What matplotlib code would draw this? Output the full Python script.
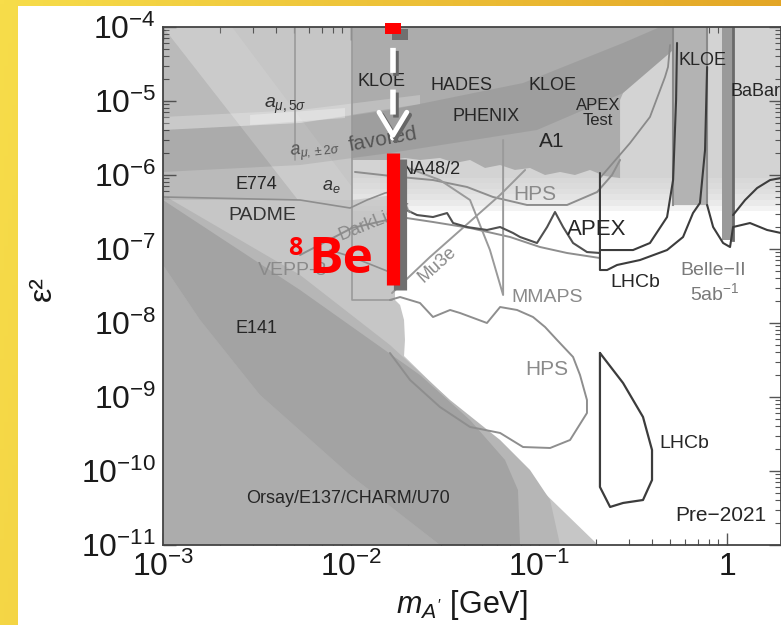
import numpy as np
import matplotlib
matplotlib.use("Agg")
import matplotlib.pyplot as plt
from matplotlib import patheffects as pe
from matplotlib.patches import Rectangle
from matplotlib.ticker import FixedLocator, FixedFormatter, LogLocator, NullFormatter

plt.rcParams['font.family'] = ['Liberation Sans', 'DejaVu Sans']
plt.rcParams['mathtext.fontset'] = 'custom'
plt.rcParams['mathtext.rm'] = 'Liberation Sans'
plt.rcParams['mathtext.it'] = 'Liberation Sans:italic'
plt.rcParams['mathtext.bf'] = 'Liberation Sans:bold'

# ---------------- datos (log10 m [GeV], log10 eps^2) ----------------
x_ticks = [1e-3, 1e-2, 1e-1, 1.0]
x_tick_labels = [r'$10^{-3}$', r'$10^{-2}$', r'$10^{-1}$', '1']
y_ticks = [1e-11, 1e-10, 1e-9, 1e-8, 1e-7, 1e-6, 1e-5, 1e-4]
y_tick_labels = [r'$10^{-11}$', r'$10^{-10}$', r'$10^{-9}$', r'$10^{-8}$',
                 r'$10^{-7}$', r'$10^{-6}$', r'$10^{-5}$', r'$10^{-4}$']
x_max = 10**0.287

# zonas excluidas
left_logm = [-3.000, -1.995, -1.995, -1.766, -1.766, -1.739, -1.718, -1.713, -1.718, -1.207, -0.686, -3.000]
left_loge = [-4.000, -4.000, -6.338, -6.270, -7.689, -7.757, -7.959, -8.230, -8.446, -9.716, -11.000, -11.000]

top_logm = [-1.995, 0.287]
top_floor = -6.041

upper_logm = [-1.995, -0.144, -0.553, -0.569, -0.569, -0.649, -0.729, -0.809, -0.888, -0.968, -1.048,
              -1.128, -1.207, -1.287, -1.367, -1.447, -1.527, -1.633, -1.713, -1.793, -1.995]
upper_loge = [-4.000, -4.000, -4.892, -4.986, -6.041, -6.014, -5.932, -6.000, -5.959, -6.000, -5.905,
              -5.932, -5.865, -5.905, -5.797, -5.838, -5.770, -5.797, -5.770, -5.797, -5.797]

amu_logm = [-3.000, -2.271, -1.793, -1.085, -0.553, -0.356, -0.144, -0.553, -1.011, -1.793, -2.271, -3.000]
amu_loge = [-5.392, -5.297, -5.122, -4.757, -4.216, -4.000, -4.000, -4.892, -5.392, -5.703, -5.865, -5.959]

amu5_logm = [-3.000, -2.271, -1.633, -1.633, -2.271, -3.000]
amu5_loge = [-5.216, -5.122, -4.919, -5.041, -5.297, -5.392]
amu5_gap_logm = [-2.537, -2.032, -2.032, -2.537]
amu5_gap_loge = [-5.189, -5.095, -5.230, -5.324]

stripe_logm = [-3.000, -2.633, -1.995, -1.995, -2.282]
stripe_loge = [-4.000, -4.000, -6.162, -6.338, -6.338]
e141_logm = [-3.000, -2.282, -3.000]
e141_loge = [-4.000, -6.338, -6.338]

bd_mid_logm = [-2.271, -1.793, -1.473, -1.207, -1.048, -0.941, -0.888, -3.000, -3.000]
bd_mid_loge = [-7.351, -8.297, -9.041, -9.581, -9.986, -10.392, -11.000, -11.000, -6.270]
bd_left_logm = [-3.000, -2.803, -2.484, -2.005, -1.527, -3.000]
bd_left_loge = [-7.216, -7.959, -8.973, -10.054, -11.000, -11.000]
bd_dark_logm = [-3.000, -2.271, -1.633, -1.367, -1.181, -1.112, -1.101, -1.527, -2.005, -2.484, -2.803, -3.000]
bd_dark_loge = [-6.338, -7.554, -8.703, -9.311, -9.851, -10.257, -11.000, -11.000, -10.054, -8.973, -7.959, -7.216]

# resonancias rho/omega y phi (KLOE)
rho_logm = [-0.287, -0.106]
rho_floor = -6.405
phi_logm = [-0.027, 0.032]
phi_floor = -6.878

# curvas
kloe_line = ([-0.676, -0.516, -0.410, -0.330, -0.314, -0.303],
             [-6.041, -5.568, -5.216, -4.676, -4.541, -4.243])
hps_up = ([-1.979, -1.739, -1.564, -1.383, -1.245, -1.064, -0.851, -0.691, -0.612, -0.569],
          [-5.959, -6.027, -6.068, -6.162, -6.297, -6.405, -6.405, -6.230, -6.000, -5.797])
padme = ([-3.000, -2.271, -2.005, -1.915, -1.819, -1.739],
         [-6.297, -6.338, -6.446, -6.338, -6.243, -6.203])
apex = ([-1.739, -1.649, -1.564, -1.489, -1.457, -1.383, -1.277, -1.207, -1.138, -1.101, -1.011,
         -0.957, -0.915, -0.872, -0.819, -0.745, -0.676],
        [-6.432, -6.541, -6.568, -6.514, -6.649, -6.703, -6.743, -6.703, -6.784, -6.838, -6.919,
         -6.703, -6.500, -6.703, -6.919, -7.041, -7.054])
darklight = ([-2.271, -1.995, -1.739, -1.564, -1.367, -1.154, -0.995, -0.851, -0.676],
             [-7.081, -6.716, -6.568, -6.635, -6.716, -6.838, -6.973, -7.054, -7.122])
vepp3 = ([-2.112, -1.995, -1.862, -1.782],
         [-7.014, -7.108, -7.243, -7.324])
mmaps = ([-1.739, -1.527, -1.367, -1.261, -1.191, -1.191],
         [-5.865, -6.068, -6.338, -7.014, -7.622, -5.527])
mu3e = ([-1.782, -1.580, -1.207, -1.074],
        [-7.595, -7.108, -6.270, -5.932])
hps_dv = ([-1.793, -1.739, -1.633, -1.564, -1.473, -1.420, -1.277, -1.207, -1.117, -1.032, -0.968,
           -0.904, -0.819, -0.782, -0.745, -0.745, -0.835, -0.941, -1.085, -1.207, -1.367, -1.527,
           -1.686, -1.793],
          [-7.689, -7.649, -7.730, -7.919, -7.824, -7.865, -8.000, -7.784, -7.824, -7.919, -8.054,
           -8.230, -8.459, -8.703, -9.041, -9.216, -9.581, -9.689, -9.676, -9.486, -9.405, -9.135,
           -8.770, -8.405])
lhcb_dv = ([-0.676, -0.553, -0.447, -0.399, -0.399, -0.447, -0.553, -0.622, -0.676, -0.676],
           [-8.405, -8.811, -9.270, -9.716, -10.122, -10.392, -10.432, -10.486, -10.216, -8.405])
lhcb_prompt = ([-0.676, -0.676, -0.638, -0.585, -0.463, -0.319, -0.234, -0.181, -0.144, -0.117, -0.106],
               [-5.973, -7.284, -7.284, -7.216, -7.149, -7.014, -6.838, -6.514, -6.378, -5.662, -4.541])
belle2 = ([-0.676, -0.500, -0.410, -0.319, -0.287, -0.271, -0.266],
          [-7.014, -7.014, -6.919, -6.568, -6.068, -4.986, -4.216])
belle2_hi = ([-0.106, -0.074, -0.021, 0.016, 0.032, 0.122, 0.213, 0.287],
             [-6.405, -6.703, -6.919, -6.973, -6.703, -6.649, -6.743, -6.784])
babar_edge = ([0.032, 0.096, 0.160, 0.229, 0.287],
              [-6.541, -6.338, -6.176, -6.068, -6.041])
box_left = ([-2.298, -2.298], [-4.000, -5.797])
box_right = ([-1.995, -1.995, -1.782], [-4.000, -7.689, -7.689])

# 8Be (X17)
be8_mass = 0.0167
be8_eps2 = [3.27e-8, 1.98e-6]
be8_top = [8.0e-5, 1.13e-4]
be8_arrow = [8.0e-5, 6.1e-6, 2.97e-6]

# etiquetas: texto, log m, log eps2, tamaño, color, rotación
labels = [
    ('KLOE', -1.840, -4.743, 13, '#262626', 0),
    ('HADES', -1.415, -4.784, 13, '#262626', 0),
    ('KLOE', -0.926, -4.784, 13, '#262626', 0),
    ('PHENIX', -1.282, -5.216, 13, '#262626', 0),
    ('APEX\nTest', -0.686, -5.162, 12, '#262626', 0),
    ('A1', -0.931, -5.541, 15, '#262626', 0),
    ('KLOE', -0.128, -4.446, 13, '#262626', 0),
    ('HPS', -1.021, -6.257, 15, '#8a8a8a', 0),
    ('APEX', -0.691, -6.743, 16, '#262626', 0),
    ('LHCb', -0.489, -7.459, 14, '#262626', 0),
    ('Belle\u2212II', -0.074, -7.284, 14, '#7a7a7a', 0),
    (r'5ab$^{-1}$', -0.064, -7.595, 14, '#7a7a7a', 0),
    ('MMAPS', -0.957, -7.662, 14, '#8a8a8a', 0),
    ('Mu3e', -1.543, -7.216, 13, '#8a8a8a', 42),
    ('DarkLight', -1.872, -6.635, 13, '#8a8a8a', 22),
    ('VEPP-3', -2.309, -7.297, 14, '#8a8a8a', 0),
    ('PADME', -2.473, -6.541, 14, '#333333', 0),
    ('E774', -2.505, -6.122, 13, '#262626', 0),
    (r'$a_e$', -2.106, -6.162, 13, '#333333', 0),
    (r'$a_{\mu,5\sigma}$', -2.351, -5.068, 14, '#333333', 0),
    (r'$a_{\mu,\pm2\sigma}$', -2.191, -5.676, 13, '#555555', 6),
    ('favored', -1.830, -5.527, 15, '#555555', 10),
    ('E141', -2.505, -8.081, 13, '#262626', 0),
    ('Orsay/E137/CHARM/U70', -2.016, -10.378, 13, '#262626', 0),
    ('HPS', -0.957, -8.635, 15, '#8a8a8a', 0),
    ('LHCb', -0.229, -9.622, 14, '#262626', 0),
    ('Pre\u22122021', -0.032, -10.595, 15, '#262626', 0),
]
left_labels = [
    ('BaBar', 0.016, -4.865, 13, '#262626'),
    ('NA48/2', -1.739, -5.919, 13, '#262626'),
]


def fill_region(ax, logm, loge, color, alpha=1.0, z=1):
    ax.fill(10**np.array(logm), 10**np.array(loge), color=color, alpha=alpha, lw=0, zorder=z)


def curve(ax, pts, color, lw=1.4, z=5):
    ax.plot(10**np.array(pts[0]), 10**np.array(pts[1]), color=color, lw=lw, zorder=z,
            solid_joinstyle='round', solid_capstyle='round')


fig = plt.figure(figsize=(7.81, 6.25), dpi=100)

# fondo de la diapositiva
bg = fig.add_axes([0, 0, 1, 1], zorder=-10)
GX, GY = np.meshgrid(np.linspace(0, 1, 200), np.linspace(0, 1, 160))
yellow = np.array([247, 221, 74]) / 255
orange = np.array([226, 163, 36]) / 255
t = np.clip(GX * 0.95 + GY * 0.12, 0, 1)[..., None]
bg.imshow(yellow * (1 - t) + orange * t, extent=[0, 1, 0, 1], aspect='auto', origin='upper')
bg.add_patch(Rectangle((18 / 781, 0), 1 - 18 / 781, 1 - 6 / 625, color='white', lw=0))
bg.set_xlim(0, 1)
bg.set_ylim(0, 1)
bg.axis('off')

ax = fig.add_axes([163 / 781, 80 / 625, 618 / 781, 518 / 625])
ax.set_xscale('log')
ax.set_yscale('log')
ax.set_xlim(1e-3, x_max)
ax.set_ylim(1e-11, 1e-4)
ax.set_facecolor('white')

# zonas grises
fill_region(ax, left_logm, left_loge, '#c6c6c6', z=1)
fill_region(ax, [top_logm[0], top_logm[1], top_logm[1], top_logm[0]],
            [-4.0, -4.0, top_floor, top_floor], '#d3d3d3', z=1)
for drop in np.linspace(0.07, 0.45, 6):
    ax.fill_between(10**np.array(top_logm), 10**(top_floor - drop), 10**top_floor,
                    color='#d3d3d3', alpha=0.25, lw=0, zorder=1)
fill_region(ax, bd_mid_logm, bd_mid_loge, '#b6b6b6', z=2)
fill_region(ax, bd_left_logm, bd_left_loge, '#acacac', z=2)
fill_region(ax, bd_dark_logm, bd_dark_loge, '#a3a3a3', z=2)
fill_region(ax, e141_logm, e141_loge, 'black', alpha=0.06, z=2)
fill_region(ax, stripe_logm, stripe_loge, 'white', alpha=0.10, z=2)
fill_region(ax, upper_logm, upper_loge, '#acacac', z=3)
fill_region(ax, amu_logm, amu_loge, 'black', alpha=0.08, z=3)
fill_region(ax, amu5_logm, amu5_loge, 'white', alpha=0.22, z=3)
fill_region(ax, amu5_gap_logm, amu5_gap_loge, 'white', alpha=0.3, z=3)

ax.fill_between(10**np.array(rho_logm), 10**rho_floor, 1e-4, color='#b3b3b3', lw=0, zorder=3)
ax.fill_between(10**np.array(phi_logm), 10**phi_floor, 1e-4, color='#9a9a9a', lw=0, zorder=3)
for lm in rho_logm:
    ax.plot([10**lm, 10**lm], [10**rho_floor, 1e-4], color='#8a8a8a', lw=1.5, zorder=4)
ax.plot([10**phi_logm[1]] * 2, [10**phi_floor, 1e-4], color='#6a6a6a', lw=2, zorder=4)

# curvas de proyecciones y limites
gray = '#8e8e8e'
dark = '#3c3c3c'
curve(ax, box_left, '#9a9a9a', lw=1.2, z=4)
curve(ax, box_right, '#9a9a9a', lw=1.2, z=4)
curve(ax, kloe_line, '#8a8a8a', lw=1.3)
curve(ax, hps_up, gray)
curve(ax, padme, gray, lw=1.2)
curve(ax, darklight, gray)
curve(ax, vepp3, gray, lw=1.2)
curve(ax, mmaps, '#9a9a9a')
curve(ax, mu3e, '#9a9a9a')
curve(ax, hps_dv, gray)
curve(ax, apex, '#505050', lw=1.5)
curve(ax, lhcb_dv, dark, lw=1.6)
curve(ax, lhcb_prompt, dark, lw=1.5)
curve(ax, belle2, dark, lw=1.5)
curve(ax, belle2_hi, dark, lw=1.5)
curve(ax, babar_edge, dark, lw=1.5)

for txt, lm, le, size, col, rot in labels:
    ax.text(10**lm, 10**le, txt, fontsize=size, color=col, rotation=rot,
            ha='center', va='center', linespacing=0.95, zorder=7)
for txt, lm, le, size, col in left_labels:
    ax.text(10**lm, 10**le, txt, fontsize=size, color=col, ha='left', va='center', zorder=7)

# 8Be
shadow = [pe.SimpleLineShadow(offset=(5, -4), shadow_color='#707070', alpha=1.0), pe.Normal()]
shadow_small = [pe.SimpleLineShadow(offset=(2, -2), shadow_color='#666666', alpha=1.0), pe.Normal()]
ax.plot([be8_mass, be8_mass], be8_eps2, color='#ff0000', lw=9.5, solid_capstyle='butt',
        path_effects=shadow, zorder=10)
ax.plot([be8_mass, be8_mass], be8_top, color='#ff0000', lw=11.5, solid_capstyle='butt',
        path_effects=shadow, zorder=10, clip_on=False)
ax.plot([be8_mass, be8_mass], be8_arrow[:2], color='white', lw=4, linestyle=(5.0, (4.5, 3.0)),
        solid_capstyle='butt', path_effects=shadow_small, zorder=10)
ax.annotate('', xy=(be8_mass, be8_arrow[2]), xytext=(be8_mass, be8_arrow[2] * 1.08),
            arrowprops=dict(arrowstyle='->,head_length=0.83,head_width=0.5', color='white', lw=3.5,
                            mutation_scale=20, shrinkA=0, shrinkB=0, path_effects=shadow_small),
            zorder=10)
ax.text(10**-2.229, 10**-7.324, 'Be', fontsize=37, fontweight='bold', color='#ff0000',
        family='Open Sans', ha='left', va='baseline', zorder=9)
ax.text(10**-2.335, 10**-7.081, '8', fontsize=18, fontweight='bold', color='#ff0000',
        family='Open Sans', ha='left', va='baseline', zorder=9)

# ejes
ax.xaxis.set_major_locator(FixedLocator(x_ticks))
ax.xaxis.set_major_formatter(FixedFormatter(x_tick_labels))
ax.yaxis.set_major_locator(FixedLocator(y_ticks))
ax.yaxis.set_major_formatter(FixedFormatter(y_tick_labels))
ax.xaxis.set_minor_locator(LogLocator(base=10, subs=np.arange(2, 10)))
ax.yaxis.set_minor_locator(LogLocator(base=10, subs=np.arange(2, 10), numticks=20))
ax.xaxis.set_minor_formatter(NullFormatter())
ax.yaxis.set_minor_formatter(NullFormatter())
ax.tick_params(which='both', direction='in', top=True, right=True, color='#555555', zorder=8)
ax.tick_params(which='major', length=9, width=1.0, labelsize=23, labelcolor='#1a1a1a', pad=5)
ax.tick_params(which='minor', length=4, width=0.8)
for sp in ax.spines.values():
    sp.set_color('#444444')
    sp.set_linewidth(1.3)
    sp.set_zorder(8)

fig.text(462 / 781, 1 - 605 / 625, r"$m_{A'}$ [GeV]", fontsize=22, color='#1a1a1a',
         ha='center', va='center')
fig.text(43 / 781, 1 - 289 / 625, '\u03b5\u00b2', fontsize=23, color='#1a1a1a',
         rotation=90, ha='center', va='center')

fig.savefig('out.png', dpi=100)
